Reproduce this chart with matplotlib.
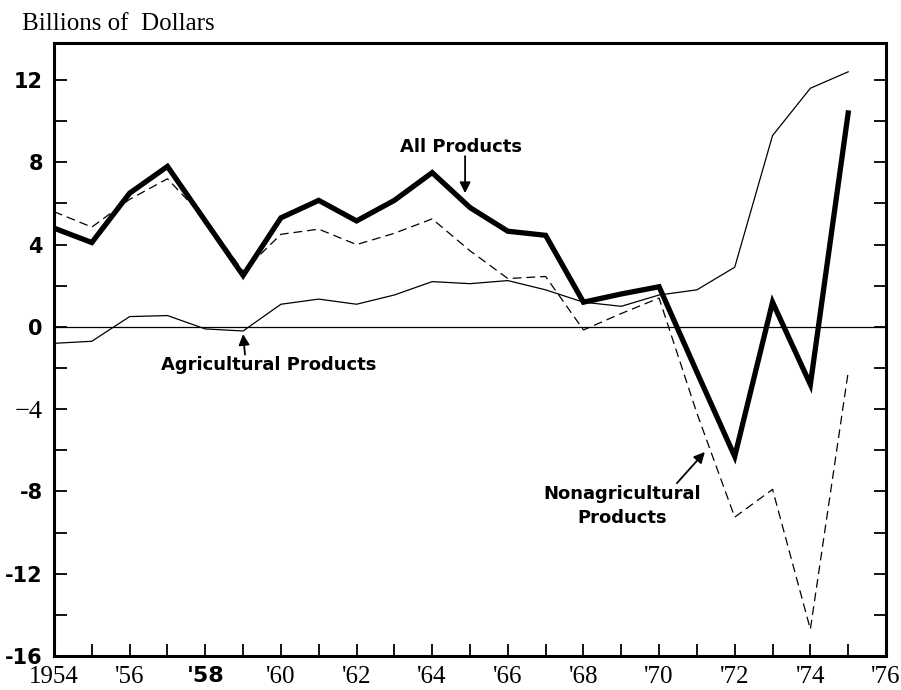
import numpy as np
import matplotlib
matplotlib.use("Agg")
import matplotlib.pyplot as plt

# Billions of dollars, 1954-1975
years = list(range(1954, 1976))
all_products = [4.8, 4.1, 6.5, 7.8, 5.15, 2.5, 5.3, 6.15, 5.15, 6.15, 7.5,
                5.8, 4.65, 4.45, 1.2, 1.6, 1.95, -2.2, -6.3, 1.2, -2.8, 10.4]
agricultural = [-0.8, -0.7, 0.5, 0.55, -0.1, -0.2, 1.1, 1.35, 1.1, 1.55, 2.2,
                2.1, 2.25, 1.8, 1.2, 1.0, 1.55, 1.8, 2.9, 9.3, 11.6, 12.4]
nonagricultural = [5.6, 4.85, 6.2, 7.2, 5.25, 2.7, 4.5, 4.75, 4.0, 4.55, 5.25,
                   3.7, 2.35, 2.45, -0.15, 0.65, 1.4, -4.2, -9.25, -7.9, -14.7, -2.2]

xtick_years = list(range(1954, 1977, 2))
xtick_labels = ['1954', "'56", "'58", "'60", "'62", "'64", "'66", "'68",
                "'70", "'72", "'74", "'76"]
ytick_vals = list(range(-16, 13, 4))
ytick_labels = ['-16', '-12', '-8', '\u22124', '0', '4', '8', '12']

serif = 'Liberation Serif'
sans = 'DejaVu Sans'

fig = plt.figure(figsize=(9.01, 6.90), dpi=100)
ax = fig.add_axes([54 / 901, 1 - 656 / 690, (886 - 54) / 901, (656 - 43) / 690])

ax.axhline(0, color='black', lw=0.9, zorder=1)
ax.plot(years, agricultural, color='black', lw=0.9, zorder=2)
ax.plot(years, nonagricultural, color='black', lw=0.9, dashes=(7, 4), zorder=2)
ax.plot(years, all_products, color='black', lw=3.8, solid_joinstyle='miter',
        zorder=3)

ax.set_xlim(1954, 1976)
ax.set_ylim(-16, 13.8)

for side in ax.spines.values():
    side.set_linewidth(2.2)

# ticks every year / every 2 billion, labels only on some
ax.set_xticks(range(1954, 1977))
ax.set_xticklabels([xtick_labels[xtick_years.index(y)] if y in xtick_years else ''
                    for y in range(1954, 1977)])
ax.set_yticks(range(-16, 13, 2))
ax.set_yticklabels([ytick_labels[ytick_vals.index(v)] if v in ytick_vals else ''
                    for v in range(-16, 13, 2)])
ax.tick_params(direction='in', length=9, width=1.3, right=True, top=False)
ax.tick_params(axis='x', pad=7)
ax.tick_params(axis='y', pad=8)

for lab in ax.get_xticklabels():
    if lab.get_text() == "'58":
        lab.set_fontfamily(sans)
        lab.set_fontweight('bold')
        lab.set_fontsize(16)
    else:
        lab.set_fontfamily(serif)
        lab.set_fontsize(18)
for lab in ax.get_yticklabels():
    if lab.get_text() == '\u22124':
        lab.set_fontfamily(serif)
        lab.set_fontsize(19)
    else:
        lab.set_fontfamily(sans)
        lab.set_fontweight('bold')
        lab.set_fontsize(15)

fig.text(22 / 901, 1 - 24 / 690, 'Billions of  Dollars', family=serif,
         fontsize=18, va='center', ha='left')

arrow = dict(arrowstyle='-|>', color='black', lw=1.3, mutation_scale=16,
             shrinkA=0, shrinkB=0)
ax.text(1964.75, 8.75, 'All Products', family=sans, weight='bold',
        fontsize=13, ha='center', va='center')
ax.annotate('', xy=(1964.87, 6.5), xytext=(1964.87, 8.3), arrowprops=arrow)

ax.text(1959.68, -1.85, 'Agricultural Products', family=sans, weight='bold',
        fontsize=13, ha='center', va='center')
ax.annotate('', xy=(1959.0, -0.35), xytext=(1959.05, -1.35), arrowprops=arrow)

ax.text(1969.02, -8.7, 'Nonagricultural\nProducts', family=sans, weight='bold',
        fontsize=13, ha='center', va='center', linespacing=1.45)
ax.annotate('', xy=(1971.21, -6.08), xytext=(1970.47, -7.6), arrowprops=arrow)

fig.savefig('out.png', dpi=100)
